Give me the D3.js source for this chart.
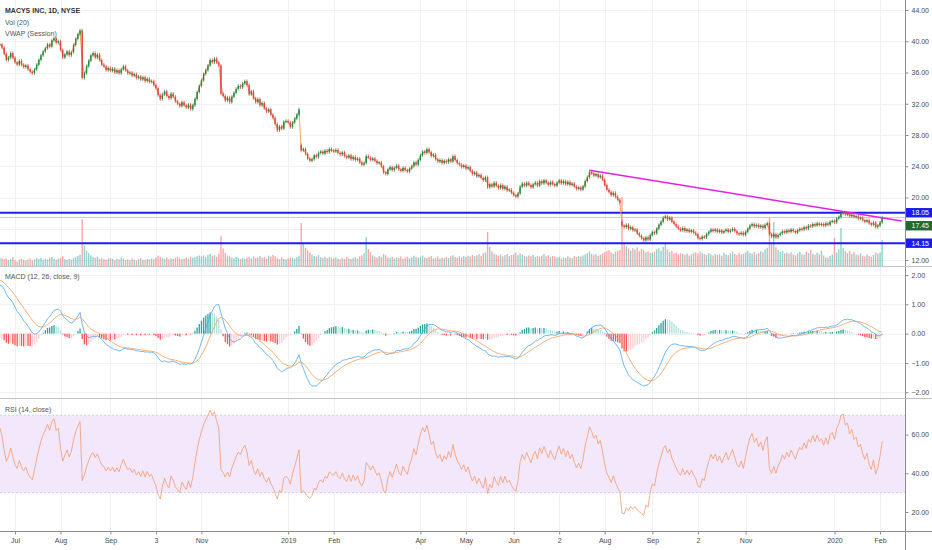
<!DOCTYPE html>
<html>
<head>
<meta charset="utf-8">
<script src="https://cdn.jsdelivr.net/npm/d3@7"></script>
<style>
  body { margin: 0; background: #fff; }
</style>
</head>
<body>
<div id="chart"></div>
<script>
// daily closes, one array per month (Jun 2018 is only the last 7 sessions)
var closeJun18 = [39.6, 39.2, 38.4, 37.6, 37.9, 38.5, 37.9];
var closeJul18 = [37.3, 37.0, 37.5, 37.0, 36.7, 36.9, 36.4, 36.1, 35.9, 36.4, 37.0, 37.6, 38.2, 38.7, 39.1, 39.6, 39.3, 40.1, 40.4, 39.8, 40.0];
var closeAug18 = [38.9, 37.9, 38.3, 38.7, 38.2, 38.6, 39.5, 40.3, 40.9, 41.4, 35.3, 35.9, 36.8, 37.5, 38.2, 38.5, 37.9, 38.3, 37.6, 37.0, 36.8, 36.3, 36.6];
var closeSep18 = [36.2, 36.5, 36.0, 36.3, 35.9, 36.4, 36.8, 36.3, 35.9, 36.0, 35.6, 35.8, 35.3, 35.5, 35.1, 35.4, 34.9, 35.2, 34.8];
var closeOct18 = [34.9, 34.4, 34.0, 33.1, 32.6, 33.2, 33.6, 33.0, 32.7, 33.3, 32.9, 32.3, 32.0, 31.7, 32.2, 31.8, 31.5, 31.9, 31.3, 31.8, 32.6, 33.5, 34.3];
var closeNov18 = [35.0, 35.8, 36.3, 36.9, 37.6, 37.3, 37.8, 37.3, 36.9, 33.3, 33.0, 32.4, 32.8, 32.2, 32.9, 33.4, 33.9, 34.3, 34.1, 34.6, 34.9];
var closeDec18 = [34.4, 33.2, 33.6, 32.7, 32.2, 32.6, 31.8, 32.1, 31.4, 31.0, 31.3, 30.6, 30.2, 29.4, 28.6, 29.1, 28.8, 29.7, 29.8];
var closeJan19 = [29.6, 29.0, 29.6, 30.1, 30.6, 31.3, 26.0, 26.2, 25.6, 25.0, 24.7, 24.9, 25.4, 25.2, 25.7, 25.9, 25.6, 26.0, 25.8, 26.2, 26.0];
var closeFeb19 = [25.9, 26.1, 25.7, 25.5, 25.8, 25.3, 25.1, 25.4, 24.9, 25.2, 24.8, 25.0, 24.5, 24.2, 24.4, 25.3, 25.1, 24.8, 25.0];
var closeMar19 = [24.7, 24.4, 24.5, 24.0, 23.2, 23.0, 23.6, 23.9, 23.5, 23.8, 24.1, 23.6, 23.4, 23.8, 23.5, 23.3, 23.7, 24.0, 24.5, 24.2, 24.8];
var closeApr19 = [25.4, 25.9, 25.7, 26.2, 25.8, 25.3, 25.5, 24.9, 24.6, 24.8, 24.4, 24.7, 24.5, 24.9, 24.6, 25.3, 24.8, 24.4, 24.2, 23.9, 24.1];
var closeMay19 = [23.7, 23.9, 23.4, 23.0, 23.2, 22.7, 22.9, 22.5, 22.2, 22.6, 21.3, 21.7, 21.4, 21.9, 21.5, 21.2, 21.6, 21.1, 21.4, 20.9, 21.0, 20.6];
var closeJun19 = [20.3, 20.1, 20.5, 21.4, 21.8, 21.5, 21.9, 21.6, 21.3, 21.7, 21.9, 21.5, 22.1, 21.8, 22.2, 21.9, 21.6, 22.0, 21.7, 21.5];
var closeJul19 = [21.9, 22.2, 21.8, 22.1, 21.7, 22.0, 21.6, 21.8, 21.4, 21.1, 21.3, 21.0, 21.4, 22.1, 22.6, 23.3, 23.1, 22.8, 23.0, 22.6, 22.8, 22.3];
var closeAug19 = [21.6, 21.0, 20.7, 20.3, 20.6, 20.1, 19.7, 19.3, 16.4, 16.2, 16.5, 16.0, 16.2, 15.8, 15.9, 15.4, 15.1, 14.8, 14.5, 14.9, 14.6, 15.2];
var closeSep19 = [15.6, 15.4, 16.0, 16.5, 16.9, 17.4, 17.6, 17.2, 17.4, 16.9, 16.6, 16.3, 16.0, 15.8, 16.1, 15.7, 15.9, 15.6, 15.8, 15.5];
var closeOct19 = [15.3, 14.8, 14.7, 15.0, 14.9, 15.3, 15.6, 15.9, 15.7, 15.9, 15.6, 15.8, 15.5, 15.7, 15.9, 15.6, 15.8, 16.0, 15.7, 15.4, 15.3, 15.5, 15.2];
var closeNov19 = [15.6, 16.0, 16.4, 16.6, 16.3, 16.5, 16.2, 16.4, 16.1, 16.5, 16.7, 15.3, 15.0, 15.3, 14.9, 15.2, 15.4, 15.7, 15.5, 15.8];
var closeDec19 = [15.6, 15.9, 15.7, 15.5, 15.8, 16.0, 15.9, 16.2, 16.0, 16.4, 16.3, 16.6, 16.4, 16.7, 16.5, 16.6, 16.4, 16.7, 16.5, 16.9, 17.0];
var closeJan20 = [16.8, 17.3, 17.5, 18.0, 18.1, 17.8, 17.9, 17.6, 17.8, 17.5, 17.6, 17.3, 17.4, 17.1, 16.9, 17.1, 16.7, 16.5, 16.8, 16.2, 16.4];
var closeFeb20 = [16.8, 17.45];

// daily volume (millions), same layout
var volJun18 = [6.1, 5.2, 4.8, 5.5, 4.3, 5.0, 6.2];
var volJul18 = [4.1, 3.2, 4.5, 5.0, 4.4, 3.8, 4.6, 5.3, 4.0, 4.7, 5.5, 4.9, 5.8, 4.2, 5.1, 4.6, 5.9, 6.4, 5.0, 4.5, 5.2];
var volAug18 = [5.8, 6.9, 4.8, 4.3, 5.0, 4.4, 5.6, 6.2, 7.1, 8.0, 33.0, 14.6, 10.8, 9.1, 7.5, 6.4, 5.8, 6.6, 5.1, 5.5, 4.8, 4.4, 5.2];
var volSep18 = [5.6, 4.9, 4.3, 5.1, 4.6, 5.8, 5.0, 4.2, 4.7, 4.0, 5.3, 4.5, 3.9, 4.8, 5.4, 4.4, 4.1, 5.0, 4.6];
var volOct18 = [5.2, 4.8, 5.9, 7.3, 6.4, 5.6, 5.0, 6.1, 4.7, 5.4, 4.9, 5.8, 6.3, 5.5, 4.8, 5.2, 6.0, 5.3, 6.6, 5.7, 6.2, 6.9, 7.4];
var volNov18 = [6.8, 7.5, 6.2, 7.9, 8.6, 7.0, 7.7, 6.5, 8.8, 21.0, 12.4, 9.1, 7.3, 6.8, 6.0, 5.4, 6.3, 5.7, 4.9, 5.6, 5.1];
var volDec18 = [5.9, 6.5, 5.3, 6.8, 5.6, 6.1, 7.0, 5.8, 6.4, 5.2, 7.3, 6.6, 7.8, 6.9, 5.5, 4.8, 6.2, 5.0, 4.6];
var volJan19 = [5.3, 6.0, 5.6, 5.1, 6.4, 7.2, 30.3, 16.2, 12.8, 11.0, 9.4, 8.1, 7.0, 6.5, 7.6, 6.2, 5.8, 6.7, 5.5, 6.3, 5.9];
var volFeb19 = [5.4, 6.1, 5.2, 4.7, 5.8, 5.0, 6.4, 5.5, 4.9, 5.7, 6.2, 5.1, 6.8, 7.5, 8.9, 20.4, 12.0, 9.6, 7.4];
var volMar19 = [6.6, 5.9, 7.0, 6.3, 8.4, 7.6, 6.1, 5.7, 6.5, 5.3, 6.0, 5.6, 6.8, 5.2, 5.9, 6.4, 5.5, 6.1, 7.2, 6.3, 5.8];
var volApr19 = [6.5, 7.4, 6.0, 5.6, 6.3, 7.1, 5.4, 5.9, 6.6, 5.2, 6.0, 5.5, 6.2, 5.7, 6.8, 7.5, 6.4, 5.8, 6.9, 6.2, 7.0];
var volMay19 = [6.4, 7.2, 6.7, 7.8, 6.9, 7.5, 8.3, 7.1, 8.8, 9.6, 24.0, 13.5, 10.2, 8.7, 7.9, 7.2, 8.1, 6.8, 7.6, 8.4, 7.0, 7.7];
var volJun19 = [8.2, 9.4, 7.6, 8.8, 7.9, 7.1, 6.6, 7.4, 6.9, 7.8, 6.3, 7.0, 6.5, 7.3, 8.5, 6.8, 7.5, 6.2, 7.1, 6.6];
var volJul19 = [5.9, 6.4, 5.2, 6.1, 5.6, 6.8, 6.0, 5.5, 6.9, 6.3, 7.0, 6.6, 7.4, 8.2, 9.0, 10.3, 8.6, 7.7, 8.4, 7.2, 8.0, 9.1];
var volAug19 = [9.8, 10.5, 11.2, 9.5, 8.7, 9.9, 10.6, 11.4, 48.6, 16.2, 14.0, 12.3, 10.8, 12.6, 11.5, 13.2, 10.4, 12.1, 11.0, 9.6, 10.3, 9.2];
var volSep19 = [9.4, 10.1, 11.8, 12.6, 10.7, 13.4, 16.2, 11.5, 9.8, 10.6, 8.9, 9.5, 8.3, 9.1, 8.6, 7.9, 8.8, 7.4, 8.2, 9.0];
var volOct19 = [9.6, 8.8, 10.3, 9.1, 8.4, 7.8, 9.0, 8.2, 7.5, 8.6, 7.9, 8.3, 7.2, 9.4, 8.0, 7.6, 8.9, 10.2, 8.5, 7.7, 9.3, 8.1, 8.7];
var volNov19 = [9.5, 10.8, 9.2, 8.6, 9.9, 8.3, 9.1, 10.4, 9.7, 11.6, 12.8, 34.5, 16.4, 31.0, 13.2, 11.3, 9.8, 10.6, 8.9, 9.4];
var volDec19 = [8.8, 9.6, 8.1, 7.5, 8.9, 9.9, 8.4, 7.8, 10.2, 9.1, 11.4, 8.6, 7.9, 9.3, 8.2, 10.7, 7.4, 6.2, 5.8, 7.1, 8.0];
var volJan20 = [19.8, 9.3, 11.8, 26.8, 12.6, 10.4, 9.2, 10.5, 8.5, 9.8, 8.1, 7.6, 8.9, 7.3, 6.8, 8.2, 7.0, 6.4, 7.7, 9.5, 8.7];
var volFeb20 = [9.4, 18.3];

// sessions that opened on a gap (session number, open)
var gapOpens = [[132, 26.7], [280, 16.9]];

// session numbers counted from Jul 2, 2018
var firstSession = -7;
var tickSessions = [0, 21, 44, 65, 86, 126, 147, 187, 208, 230, 251, 272, 294, 315, 337, 378, 399];
var tickLabels = ["Jul", "Aug", "Sep", "3", "Nov", "2019", "Feb", "Apr", "May", "Jun", "2", "Aug", "Sep", "2", "Nov", "2020", "Feb"];
var priceTicks = [12, 16, 20, 24, 28, 32, 36, 40, 44];
var macdTicks = [2, 1, 0, -1, -2];
var rsiTicks = [60, 40, 20];
var levels = [18.05, 14.15];
var lastPrice = 17.45;
var trendLine = [[265, 23.5], [409, 17.0]];
var macdStart = { macd: 1.66, signal: 1.83, ema12Gap: 1.5 };
var rsiStart = { rsi: 63.5, avgMove: 0.45 };

var closes = [].concat(closeJun18, closeJul18, closeAug18, closeSep18, closeOct18, closeNov18, closeDec18,
  closeJan19, closeFeb19, closeMar19, closeApr19, closeMay19, closeJun19, closeJul19, closeAug19,
  closeSep19, closeOct19, closeNov19, closeDec19, closeJan20, closeFeb20);
var volumes = [].concat(volJun18, volJul18, volAug18, volSep18, volOct18, volNov18, volDec18,
  volJan19, volFeb19, volMar19, volApr19, volMay19, volJun19, volJul19, volAug19,
  volSep19, volOct19, volNov19, volDec19, volJan20, volFeb20);

var FONT = "'Liberation Sans', Arial, sans-serif";
var width = 932, height = 550, plotRight = 905;
var priceBottom = 266, macdBottom = 398, rsiBottom = 531;

var UP = "#26873f", DOWN = "#e0443e", BLUE = "#1c1cf0";

// bars
var bars = closes.map(function (c, k) {
  var o = k > 0 ? closes[k - 1] : c;
  return { i: k + firstSession, o: o, c: c, v: volumes[k] };
});
gapOpens.forEach(function (g) { bars[g[0] - firstSession].o = g[1]; });
bars.forEach(function (d) {
  d.up = d.c >= d.o;
  d.vwap = (Math.max(d.o, d.c) + Math.min(d.o, d.c) + d.c) / 3;
});

// MACD 12/26/9
var e12 = closes[0] - macdStart.ema12Gap, e26 = e12 - macdStart.macd, sig = macdStart.signal;
bars.forEach(function (d, k) {
  if (k > 0) {
    e12 += (2 / 13) * (d.c - e12);
    e26 += (2 / 27) * (d.c - e26);
    sig += (2 / 10) * ((e12 - e26) - sig);
  }
  d.macd = e12 - e26;
  d.signal = sig;
  d.hist = d.macd - d.signal;
});
bars.forEach(function (d, k) {
  var prev = k > 0 ? bars[k - 1].hist : d.hist;
  if (d.hist >= 0) d.histColor = d.hist > prev ? "#26a69a" : "#b2dfdb";
  else d.histColor = d.hist < prev ? "#ff5252" : "#ffcdd2";
});

// RSI 14
var avgGain = rsiStart.avgMove * rsiStart.rsi / 100, avgLoss = rsiStart.avgMove * (1 - rsiStart.rsi / 100);
bars.forEach(function (d, k) {
  if (k > 0) {
    var ch = d.c - bars[k - 1].c;
    avgGain = (avgGain * 13 + Math.max(ch, 0)) / 14;
    avgLoss = (avgLoss * 13 + Math.max(-ch, 0)) / 14;
  }
  d.rsi = avgLoss === 0 ? 100 : 100 - 100 / (1 + avgGain / avgLoss);
});

// scales
var x = d3.scaleLinear().domain([0, 399]).range([15, 880]);
var y = d3.scaleLinear().domain([12, 44]).range([260, 10]);
var yVol = d3.scaleLinear().domain([0, 50]).range([priceBottom, 195]);
var yMacd = d3.scaleLinear().domain([-2, 2]).range([392.3, 275]);
var yRsi = d3.scaleLinear().domain([20, 60]).range([512, 434.6]);

var svg = d3.select("#chart").append("svg")
  .attr("width", width).attr("height", height)
  .style("font-family", FONT);

var defs = svg.append("defs");
[["clipPrice", 0, priceBottom], ["clipMacd", priceBottom, macdBottom], ["clipRsi", macdBottom, rsiBottom]].forEach(function (c) {
  defs.append("clipPath").attr("id", c[0]).append("rect")
    .attr("x", 0).attr("y", c[1]).attr("width", plotRight).attr("height", c[2] - c[1]);
});

// grid
var grid = svg.append("g").attr("stroke", "#f0f1f4").attr("stroke-width", 1);
grid.selectAll(".vg").data(tickSessions).enter().append("line")
  .attr("x1", function (d) { return Math.round(x(d)) + 0.5; })
  .attr("x2", function (d) { return Math.round(x(d)) + 0.5; })
  .attr("y1", 0).attr("y2", rsiBottom);
grid.selectAll(".hp").data(priceTicks).enter().append("line")
  .attr("x1", 0).attr("x2", plotRight)
  .attr("y1", function (d) { return Math.round(y(d)) + 0.5; })
  .attr("y2", function (d) { return Math.round(y(d)) + 0.5; });
grid.selectAll(".hm").data(macdTicks).enter().append("line")
  .attr("x1", 0).attr("x2", plotRight)
  .attr("y1", function (d) { return Math.round(yMacd(d)) + 0.5; })
  .attr("y2", function (d) { return Math.round(yMacd(d)) + 0.5; });

// ---- price pane
var pp = svg.append("g").attr("clip-path", "url(#clipPrice)");
var bw = 1.4;

pp.selectAll(".vol").data(bars).enter().append("rect")
  .attr("x", function (d) { return x(d.i) - bw / 2; })
  .attr("width", bw)
  .attr("y", function (d) { return yVol(d.v); })
  .attr("height", function (d) { return priceBottom - yVol(d.v); })
  .attr("fill", function (d) { return d.up ? "#26a69a" : "#ef5350"; })
  .attr("fill-opacity", 0.5);

pp.selectAll(".lvl").data(levels).enter().append("line")
  .attr("x1", 0).attr("x2", plotRight)
  .attr("y1", function (d) { return y(d); }).attr("y2", function (d) { return y(d); })
  .attr("stroke", BLUE).attr("stroke-width", 2);

pp.append("line")
  .attr("x1", 0).attr("x2", plotRight)
  .attr("y1", y(lastPrice)).attr("y2", y(lastPrice))
  .attr("stroke", "#c9c9c9").attr("stroke-width", 1);

pp.append("path").datum(bars)
  .attr("fill", "none").attr("stroke", "#f7a35c").attr("stroke-width", 1)
  .attr("d", d3.line().x(function (d) { return x(d.i); }).y(function (d) { return y(d.vwap); }));

var candle = pp.selectAll(".candle").data(bars).enter().append("g");
candle.append("line")
  .attr("x1", function (d) { return x(d.i); }).attr("x2", function (d) { return x(d.i); })
  .attr("y1", function (d) { return y(Math.max(d.o, d.c)) - 1.6; })
  .attr("y2", function (d) { return y(Math.min(d.o, d.c)) + 1.6; })
  .attr("stroke", function (d) { return d.up ? UP : DOWN; })
  .attr("stroke-width", 0.7);
candle.append("rect")
  .attr("x", function (d) { return x(d.i) - bw / 2; })
  .attr("width", bw)
  .attr("y", function (d) { return y(Math.max(d.o, d.c)); })
  .attr("height", function (d) { return Math.max(1, Math.abs(y(d.o) - y(d.c))); })
  .attr("fill", function (d) { return d.up ? UP : DOWN; });

pp.append("line")
  .attr("x1", x(trendLine[0][0])).attr("y1", y(trendLine[0][1]))
  .attr("x2", x(trendLine[1][0])).attr("y2", y(trendLine[1][1]))
  .attr("stroke", "#e61ee6").attr("stroke-width", 1.5);

// ---- MACD pane
var mp = svg.append("g").attr("clip-path", "url(#clipMacd)");
mp.selectAll(".hist").data(bars).enter().append("rect")
  .attr("x", function (d) { return x(d.i) - 0.65; })
  .attr("width", 1.3)
  .attr("y", function (d) { return Math.min(yMacd(d.hist), yMacd(0)); })
  .attr("height", function (d) { return Math.abs(yMacd(d.hist) - yMacd(0)); })
  .attr("fill", function (d) { return d.histColor; });
mp.append("path").datum(bars)
  .attr("fill", "none").attr("stroke", "#4ea6f0").attr("stroke-width", 0.8)
  .attr("d", d3.line().x(function (d) { return x(d.i); }).y(function (d) { return yMacd(d.macd); }));
mp.append("path").datum(bars)
  .attr("fill", "none").attr("stroke", "#f59c58").attr("stroke-width", 0.8)
  .attr("d", d3.line().x(function (d) { return x(d.i); }).y(function (d) { return yMacd(d.signal); }));

// ---- RSI pane
var rp = svg.append("g").attr("clip-path", "url(#clipRsi)");
rp.append("rect")
  .attr("x", 0).attr("width", plotRight)
  .attr("y", yRsi(70)).attr("height", yRsi(30) - yRsi(70))
  .attr("fill", "#f3e7fb");
rp.selectAll(".band").data([70, 30]).enter().append("line")
  .attr("x1", 0).attr("x2", plotRight)
  .attr("y1", function (d) { return yRsi(d); }).attr("y2", function (d) { return yRsi(d); })
  .attr("stroke", "#d6cde2").attr("stroke-dasharray", "2,2");
rp.append("path").datum(bars)
  .attr("fill", "none").attr("stroke", "#f19a70").attr("stroke-width", 0.8)
  .attr("d", d3.line().x(function (d) { return x(d.i); }).y(function (d) { return yRsi(d.rsi); }));

// ---- frame lines
svg.append("line").attr("x1", plotRight + 0.5).attr("x2", plotRight + 0.5)
  .attr("y1", 0).attr("y2", height).attr("stroke", "#8d8d8d");
[priceBottom, macdBottom, rsiBottom].forEach(function (yy) {
  svg.append("line").attr("x1", 0).attr("x2", width)
    .attr("y1", yy + 0.5).attr("y2", yy + 0.5)
    .attr("stroke", yy === rsiBottom ? "#8d8d8d" : "#c2c2c2");
});

// ---- price labels on the axis (pushed apart when they collide)
var tags = [
  { v: levels[0], fill: BLUE },
  { v: lastPrice, fill: "#1f6a2e" },
  { v: levels[1], fill: BLUE }
];
var tagH = 9.4, tagGap = 3.6, prevBottom = -Infinity;
tags.forEach(function (t) {
  t.cy = Math.max(y(t.v), prevBottom + tagGap + tagH / 2);
  prevBottom = t.cy + tagH / 2;
});

// ---- axes
function rightAxis(scale, ticks, hideUnderTags) {
  var g = svg.append("g")
    .attr("transform", "translate(" + (plotRight + 0.5) + ",0)")
    .call(d3.axisRight(scale).tickValues(ticks).tickSize(3).tickPadding(3).tickFormat(d3.format(".2f")));
  g.select(".domain").remove();
  g.attr("font-size", 7).attr("font-family", FONT);
  g.selectAll("line").attr("stroke", "#8d8d8d");
  g.selectAll("text").attr("fill", "#4a4a4a");
  if (hideUnderTags) {
    // the axis hides a tick label that sits under a price tag
    g.selectAll(".tick").filter(function (d) {
      return tags.some(function (t) { return Math.abs(scale(d) - t.cy) < tagH; });
    }).select("text").remove();
  }
}
rightAxis(y, priceTicks, true);
rightAxis(yMacd, macdTicks, false);
rightAxis(yRsi, rsiTicks, false);

var gx = svg.append("g")
  .attr("transform", "translate(0," + (rsiBottom + 0.5) + ")")
  .call(d3.axisBottom(x).tickValues(tickSessions).tickSize(3).tickPadding(4)
    .tickFormat(function (d, k) { return tickLabels[k]; }));
gx.select(".domain").remove();
gx.attr("font-size", 7).attr("font-family", FONT);
gx.selectAll("line").attr("stroke", "#8d8d8d");
gx.selectAll("text").attr("fill", "#4a4a4a");

var tg = svg.selectAll(".tag").data(tags).enter().append("g");
tg.append("rect")
  .attr("x", plotRight + 1).attr("width", width - plotRight - 1)
  .attr("y", function (d) { return d.cy - tagH / 2; }).attr("height", tagH)
  .attr("fill", function (d) { return d.fill; });
tg.append("text")
  .attr("x", plotRight + 6.5).attr("y", function (d) { return d.cy; })
  .attr("dy", "0.35em").attr("font-size", 7).attr("fill", "#fff")
  .text(function (d) { return d3.format(".2f")(d.v); });

// ---- legends
var legends = [
  { t: "MACYS INC, 1D, NYSE", y: 11, bold: true },
  { t: "Vol (20)", y: 22.5 },
  { t: "VWAP (Session)", y: 33.5 },
  { t: "MACD (12, 26, close, 9)", y: 277 },
  { t: "RSI (14, close)", y: 410 }
];
svg.selectAll(".legend").data(legends).enter().append("text")
  .attr("x", 5).attr("y", function (d) { return d.y; }).attr("dy", "0.35em")
  .attr("font-size", 7)
  .attr("font-weight", function (d) { return d.bold ? "bold" : "normal"; })
  .attr("fill", function (d) { return d.bold ? "#333" : "#555"; })
  .text(function (d) { return d.t; });
</script>
</body>
</html>
